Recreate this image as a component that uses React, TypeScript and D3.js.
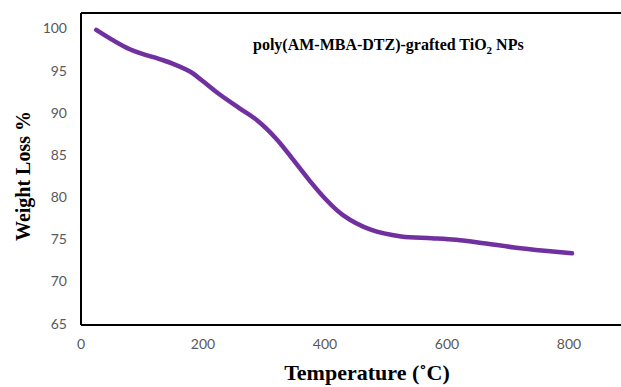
import { useMemo } from "react";
import * as d3 from "d3";

const temps = [25, 80, 130, 150, 180, 200, 228, 260, 290, 320, 350, 375, 400, 430, 475, 525, 575, 615, 660, 710, 760, 805];
const weights = [100, 97.7, 96.5, 96.0, 95.0, 93.9, 92.3, 90.7, 89.2, 87.1, 84.4, 82.1, 80, 78, 76.3, 75.5, 75.3, 75.1, 74.7, 74.2, 73.8, 73.5];
const xTickValues = [0, 200, 400, 600, 800];
const yTickValues = [65, 70, 75, 80, 85, 90, 95, 100];

export default function App() {
    const width = 621;
    const height = 387;
    const left = 81;
    const top = 13;
    const bottom = 325;

    const xScale = useMemo(() => d3.scaleLinear().domain([0, 900]).range([left, left + 549]), []);
    const yScale = useMemo(() => d3.scaleLinear().domain([65, 102]).range([bottom, top]), []);

    const points = temps.map((t, i) => [t, weights[i]] as [number, number]);
    const line = d3.line<[number, number]>()
        .x((d) => xScale(d[0]))
        .y((d) => yScale(d[1]))
        .curve(d3.curveCatmullRom.alpha(0.5));

    const tickFont = "Lato, 'Open Sans', sans-serif";
    const serif = "'Liberation Serif', 'DejaVu Serif', serif";

    return (
        <svg width={width} height={height} style={{ position: "absolute", left: 0, top: 0, background: "#fff" }}>
            <path d={line(points) ?? ""} fill="none" stroke="#7030a0" strokeWidth={4.5} strokeLinecap="round" strokeLinejoin="round" />

            {/* frame: left, top, bottom */}
            <line x1={left} y1={top} x2={width + 10} y2={top} stroke="#000" strokeWidth={2} />
            <line x1={left} y1={top} x2={left} y2={bottom} stroke="#000" strokeWidth={2} />
            <line x1={left} y1={bottom} x2={width + 10} y2={bottom} stroke="#000" strokeWidth={2} />

            {yTickValues.map((tick) => (
                <text key={`y-${tick}`} x={67} y={yScale(tick)} textAnchor="end" dominantBaseline="middle"
                    fontSize={14} fill="#595959" fontFamily={tickFont}>{tick}</text>
            ))}
            {xTickValues.map((tick) => (
                <text key={`x-${tick}`} x={xScale(tick)} y={345} textAnchor="middle" dominantBaseline="middle"
                    fontSize={14} fill="#595959" fontFamily={tickFont}>{tick}</text>
            ))}

            <text x={367} y={380} textAnchor="middle" fontSize={22} fontWeight="bold" fontFamily={serif}>Temperature (˚C)</text>
            <text transform="translate(30,176) rotate(-90)" textAnchor="middle" fontSize={20} fontWeight="bold" fontFamily={serif}>Weight Loss %</text>

            <text x={253} y={50} fontSize={16} fontWeight="bold" fontFamily={serif}>
                poly(AM-MBA-DTZ)-grafted TiO<tspan fontSize={11} dy={4}>2</tspan><tspan dy={-4}> NPs</tspan>
            </text>
        </svg>
    );
}
